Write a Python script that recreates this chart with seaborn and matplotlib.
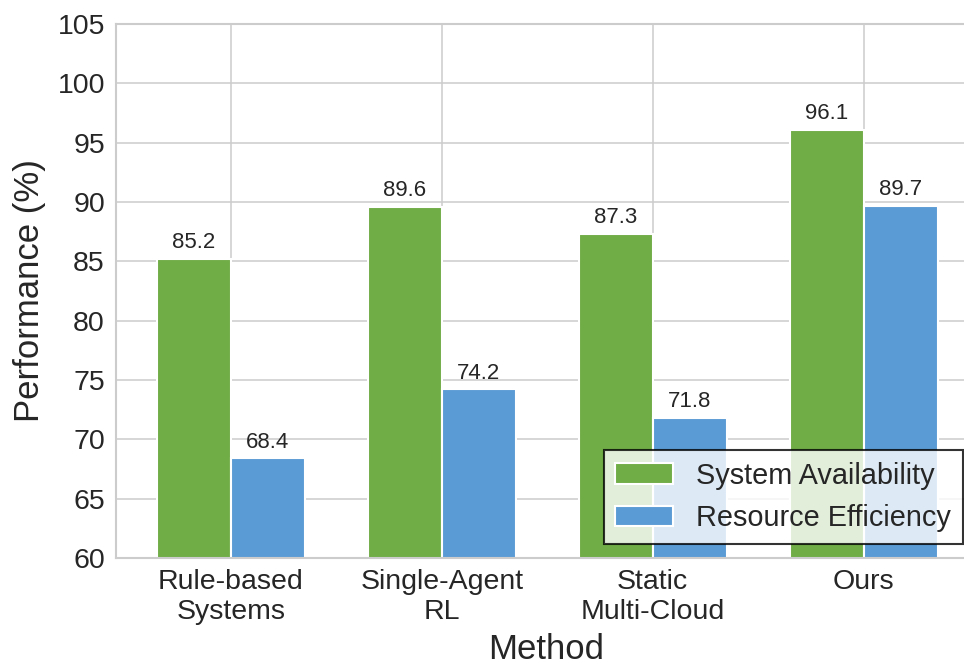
import matplotlib
matplotlib.use("Agg")
import matplotlib.pyplot as plt
import seaborn as sns
import pandas as pd

methods = ["Rule-based\nSystems", "Single-Agent\nRL", "Static\nMulti-Cloud", "Ours"]
availability = [85.2, 89.6, 87.3, 96.1]
efficiency = [68.4, 74.2, 71.8, 89.7]
metric_names = ["System Availability", "Resource Efficiency"]
y_ticks = [60, 65, 70, 75, 80, 85, 90, 95, 100, 105]

df = pd.DataFrame({
    "Method": methods * 2,
    "Metric": [metric_names[0]] * len(methods) + [metric_names[1]] * len(methods),
    "Value": availability + efficiency,
})

sns.set_theme(style="whitegrid")
plt.rcParams["font.family"] = ["Liberation Sans", "DejaVu Sans"]

fig = plt.figure(figsize=(9.64, 6.66), dpi=100)
ax = fig.add_axes([116 / 964, 1 - 558 / 666, (977 - 116) / 964, (558 - 24) / 666])

sns.barplot(
    data=df, x="Method", y="Value", hue="Metric",
    palette=["#70AD47", "#5B9BD5"], saturation=1, width=0.7,
    edgecolor="white", linewidth=1.5, ax=ax,
)

for container in ax.containers:
    ax.bar_label(container, fmt="%.1f", padding=4, fontsize=16, color="#262626")

ax.set_ylim(60, 105)
ax.set_yticks(y_ticks)
ax.set_xlim(-0.544, 3.537)
ax.grid(True, axis="both", color="#cccccc", linewidth=1.1)
ax.set_axisbelow(True)
ax.tick_params(axis="both", labelsize=20.5, colors="#262626", length=0)
ax.tick_params(axis="y", pad=8)
ax.tick_params(axis="x", pad=8)
ax.set_xlabel("Method", fontsize=25, color="#262626", labelpad=6)
ax.set_ylabel("Performance (%)", fontsize=25, color="#262626", labelpad=8)
for s in ax.spines.values():
    s.set_color("#cccccc")
    s.set_linewidth(1.5)

leg = ax.legend(loc="lower right", fontsize=20.8, fancybox=False, framealpha=0.8,
                edgecolor="black", title=None)
leg.get_frame().set_linewidth(1.5)

fig.savefig("out.png", dpi=100)
